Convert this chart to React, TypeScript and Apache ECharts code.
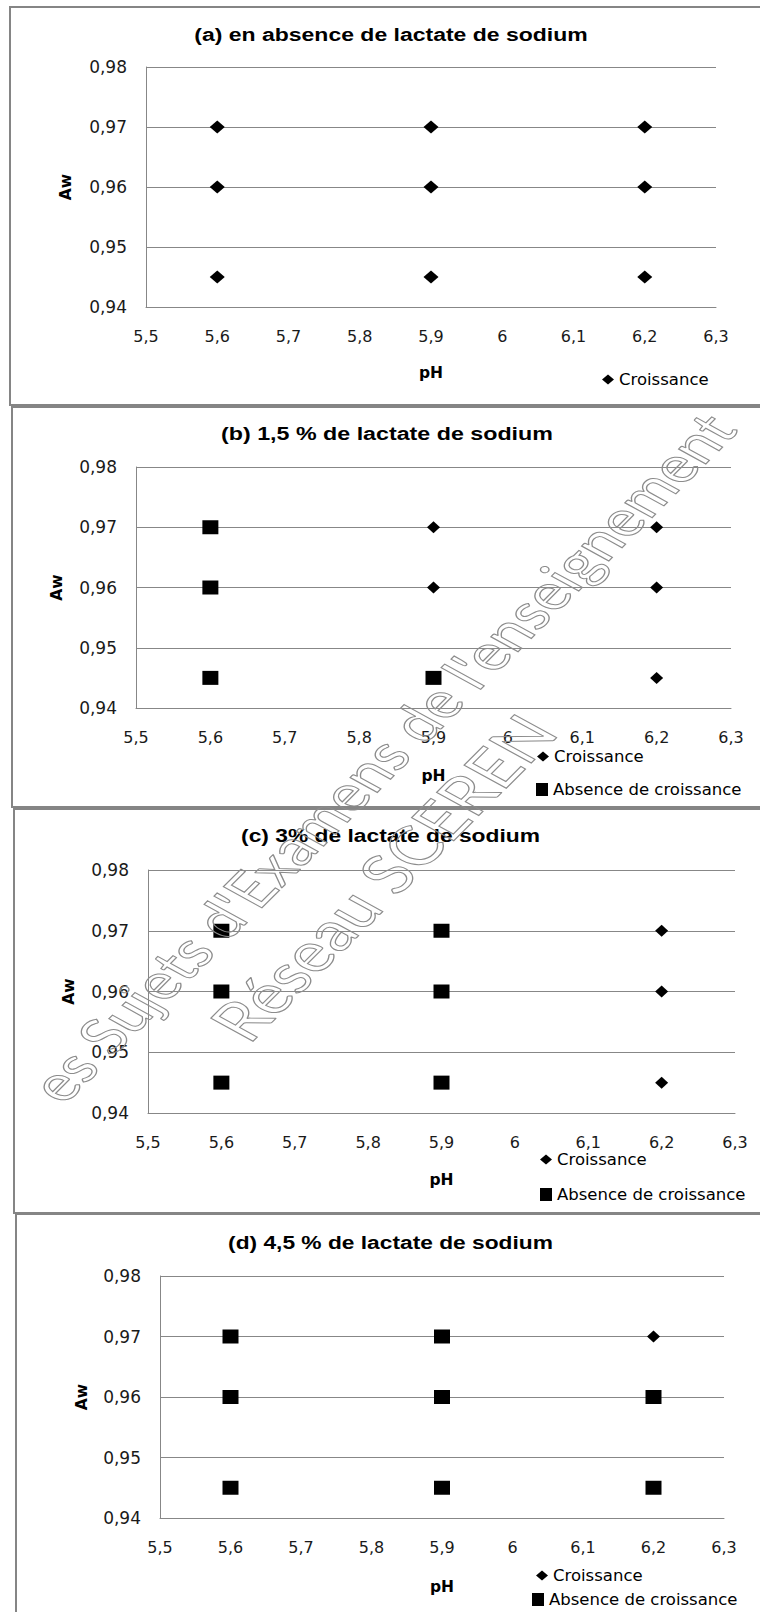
import React, { useEffect, useRef } from 'react';
import * as echarts from 'echarts';

// ---------- DATA ----------
const xTicks = [5.5, 5.6, 5.7, 5.8, 5.9, 6, 6.1, 6.2, 6.3];
const yTicks = [0.94, 0.95, 0.96, 0.97, 0.98];

const panelTitles = [
  '(a) en absence de lactate de sodium',
  '(b) 1,5 % de lactate de sodium',
  '(c) 3% de lactate de sodium',
  '(d) 4,5 % de lactate de sodium',
];

const seriesNames = ['Croissance', 'Absence de croissance'];
const xAxisName = 'pH';
const yAxisName = 'Aw';

// [pH, Aw]
const croissanceA = [
  [5.6, 0.97], [5.9, 0.97], [6.2, 0.97],
  [5.6, 0.96], [5.9, 0.96], [6.2, 0.96],
  [5.6, 0.945], [5.9, 0.945], [6.2, 0.945],
];
const absenceA: number[][] = [];

const croissanceB = [[5.9, 0.97], [6.2, 0.97], [5.9, 0.96], [6.2, 0.96], [6.2, 0.945]];
const absenceB = [[5.6, 0.97], [5.6, 0.96], [5.6, 0.945], [5.9, 0.945]];

const croissanceC = [[6.2, 0.97], [6.2, 0.96], [6.2, 0.945]];
const absenceC = [[5.6, 0.97], [5.9, 0.97], [5.6, 0.96], [5.9, 0.96], [5.6, 0.945], [5.9, 0.945]];

const croissanceD = [[6.2, 0.97]];
const absenceD = [
  [5.6, 0.97], [5.9, 0.97],
  [5.6, 0.96], [5.9, 0.96], [6.2, 0.96],
  [5.6, 0.945], [5.9, 0.945], [6.2, 0.945],
];

// visible part of the diagonal watermark
const watermarkLines = ["es Sujets d'Examens de l'enseignement", 'Réseau SCEREN'];

// ---------- LAYOUT ----------
const GRID_COLOR = '#878787';
const BOX_COLOR = '#858585';
const TICK_FONT = '"DejaVu Sans", sans-serif';
const TITLE_FONT = 'bold 19px "Liberation Sans", Arial, sans-serif';
const WM_FONT_FAMILY = 'Lato, sans-serif';

const layout = [
  {
    box: [10, 7, 770, 398],
    grid: { left: 146, top: 67, width: 570, height: 240 },
    title: { l: 194, r: 588, y: 34 },
    pHGap: 58, awGap: 72, diamond: [15, 13],
    legends: [{ s: 0, left: 602, y: 380 }],
  },
  {
    box: [12, 407, 770, 400],
    grid: { left: 136, top: 467, width: 595, height: 241 },
    title: { l: 221, r: 553, y: 433 },
    pHGap: 60, awGap: 71, diamond: [13, 12],
    legends: [{ s: 0, left: 537, y: 757 }, { s: 1, left: 536, y: 790 }],
  },
  {
    box: [14, 809, 770, 404],
    grid: { left: 148, top: 870, width: 587, height: 243 },
    title: { l: 241, r: 540, y: 835 },
    pHGap: 59, awGap: 71, diamond: [13, 12],
    legends: [{ s: 0, left: 540, y: 1160 }, { s: 1, left: 540, y: 1195 }],
  },
  {
    box: [16, 1214, 770, 420],
    grid: { left: 160, top: 1276, width: 564, height: 242 },
    title: { l: 228, r: 553, y: 1242 },
    pHGap: 61, awGap: 70, diamond: [13, 12],
    legends: [{ s: 0, left: 536, y: 1576 }, { s: 1, left: 532, y: 1600 }],
  },
];

// watermark placement: centre and overall length along the 45° diagonal
const wmPlace = [
  { x: 381, y: 757, len: 955 },
  { x: 382, y: 877, len: 440 },
];

const panelData = [
  [croissanceA, absenceA],
  [croissanceB, absenceB],
  [croissanceC, absenceC],
  [croissanceD, absenceD],
];

const fmtX = (v: number) => String(Math.round(v * 10) / 10).replace('.', ',');
const fmtY = (v: number) => v.toFixed(2).replace('.', ',');

export default function App() {
  const ref = useRef<HTMLDivElement>(null);

  useEffect(() => {
    if (!ref.current) return;
    const chart = echarts.init(ref.current, undefined, { renderer: 'svg' });

    const ctx = document.createElement('canvas').getContext('2d')!;

    const xInterval = Math.round((xTicks[1] - xTicks[0]) * 100) / 100;
    const yInterval = Math.round((yTicks[1] - yTicks[0]) * 1000) / 1000;

    const graphics: any[] = [];
    layout.forEach((p, i) => {
      graphics.push({
        type: 'rect',
        z: 0,
        shape: { x: p.box[0], y: p.box[1], width: p.box[2], height: p.box[3] },
        style: { fill: 'none', stroke: BOX_COLOR, lineWidth: 2 },
        silent: true,
      });
      ctx.font = TITLE_FONT;
      const w = ctx.measureText(panelTitles[i]).width;
      const sx = (p.title.r - p.title.l) / w;
      graphics.push({
        type: 'text',
        z: 10,
        x: (p.title.l + p.title.r) / 2,
        y: p.title.y,
        scaleX: sx,
        style: {
          text: panelTitles[i],
          font: TITLE_FONT,
          fill: '#000',
          align: 'center',
          verticalAlign: 'middle',
          textAlign: 'center',
          textVerticalAlign: 'middle',
        },
        silent: true,
      });
    });

    // watermark (stretched horizontally like the reference)
    const WM_S = 1.35;
    const WM_ROT = Math.atan(WM_S);
    const stretch = Math.sqrt(Math.pow(WM_S * Math.cos(WM_ROT), 2) + Math.pow(Math.sin(WM_ROT), 2));
    graphics.push({
      type: 'group',
      z: 100,
      scaleX: WM_S,
      silent: true,
      children: watermarkLines.map((t, k) => {
        ctx.font = `100px ${WM_FONT_FAMILY}`;
        const w100 = ctx.measureText(t).width;
        const fs = (wmPlace[k].len / stretch) / (w100 / 100);
        return {
          type: 'text',
          z: 100,
          x: wmPlace[k].x / WM_S,
          y: wmPlace[k].y,
          rotation: WM_ROT,
          silent: true,
          style: {
            text: t,
            font: `${fs.toFixed(1)}px ${WM_FONT_FAMILY}`,
            fill: 'none',
            stroke: '#8c8c8c',
            lineWidth: 1,
            align: 'center',
            verticalAlign: 'middle',
            textAlign: 'center',
            textVerticalAlign: 'middle',
          },
        };
      }),
    });

    const option: any = {
      animation: false,
      backgroundColor: '#fff',
      grid: layout.map((p) => ({ ...p.grid, containLabel: false })),
      xAxis: layout.map((p, i) => ({
        type: 'value',
        gridIndex: i,
        min: xTicks[0],
        max: xTicks[xTicks.length - 1],
        interval: xInterval,
        axisLine: { show: true, onZero: false, lineStyle: { color: GRID_COLOR, width: 1 } },
        axisTick: { show: false },
        splitLine: { show: false },
        axisLabel: {
          formatter: fmtX,
          margin: 21,
          fontFamily: TICK_FONT,
          fontSize: 16,
          color: '#1a1a1a',
          showMinLabel: true,
          showMaxLabel: true,
        },
        name: xAxisName,
        nameLocation: 'middle',
        nameGap: p.pHGap,
        nameTextStyle: { fontFamily: TICK_FONT, fontWeight: 'bold', fontSize: 15.5, color: '#000' },
      })),
      yAxis: layout.map((p, i) => ({
        type: 'value',
        gridIndex: i,
        min: yTicks[0],
        max: yTicks[yTicks.length - 1],
        interval: yInterval,
        axisLine: { show: true, lineStyle: { color: GRID_COLOR, width: 1 } },
        axisTick: { show: false },
        splitLine: { show: true, lineStyle: { color: GRID_COLOR, width: 1 } },
        axisLabel: {
          formatter: fmtY,
          margin: 19,
          fontFamily: TICK_FONT,
          fontSize: 17,
          color: '#1a1a1a',
          showMinLabel: true,
          showMaxLabel: true,
        },
        name: yAxisName,
        nameLocation: 'middle',
        nameRotate: 90,
        nameGap: p.awGap,
        nameTextStyle: {
          fontFamily: TICK_FONT,
          fontWeight: 'bold',
          fontSize: 15.5,
          color: '#000',
        },
      })),
      legend: layout.flatMap((p) =>
        p.legends.map((e) => ({
          show: true,
          orient: 'horizontal',
          left: e.left,
          top: e.y - 9,
          padding: 0,
          itemGap: 0,
          itemWidth: 12,
          itemHeight: e.s === 0 ? 10 : 13,
          selectedMode: false,
          data: [
            {
              name: seriesNames[e.s],
              icon: e.s === 0 ? 'diamond' : 'rect',
              itemStyle: { color: '#000' },
            },
          ],
          textStyle: { fontFamily: TICK_FONT, fontSize: 16.5, color: '#000' },
        }))
      ),
      series: layout.flatMap((p, i) => [
        {
          type: 'scatter',
          name: seriesNames[0],
          xAxisIndex: i,
          yAxisIndex: i,
          data: panelData[i][0],
          symbol: 'diamond',
          symbolSize: p.diamond,
          itemStyle: { color: '#000', opacity: 1 },
          z: 3,
        },
        {
          type: 'scatter',
          name: seriesNames[1],
          xAxisIndex: i,
          yAxisIndex: i,
          data: panelData[i][1],
          symbol: 'rect',
          symbolSize: [16, 14],
          itemStyle: { color: '#000', opacity: 1 },
          z: 3,
        },
      ]),
      graphic: { elements: graphics },
    };

    chart.setOption(option);
    return () => chart.dispose();
  }, []);

  return (
    <div
      ref={ref}
      style={{ position: 'absolute', left: 0, top: 0, width: 760, height: 1612, background: '#fff' }}
    />
  );
}
